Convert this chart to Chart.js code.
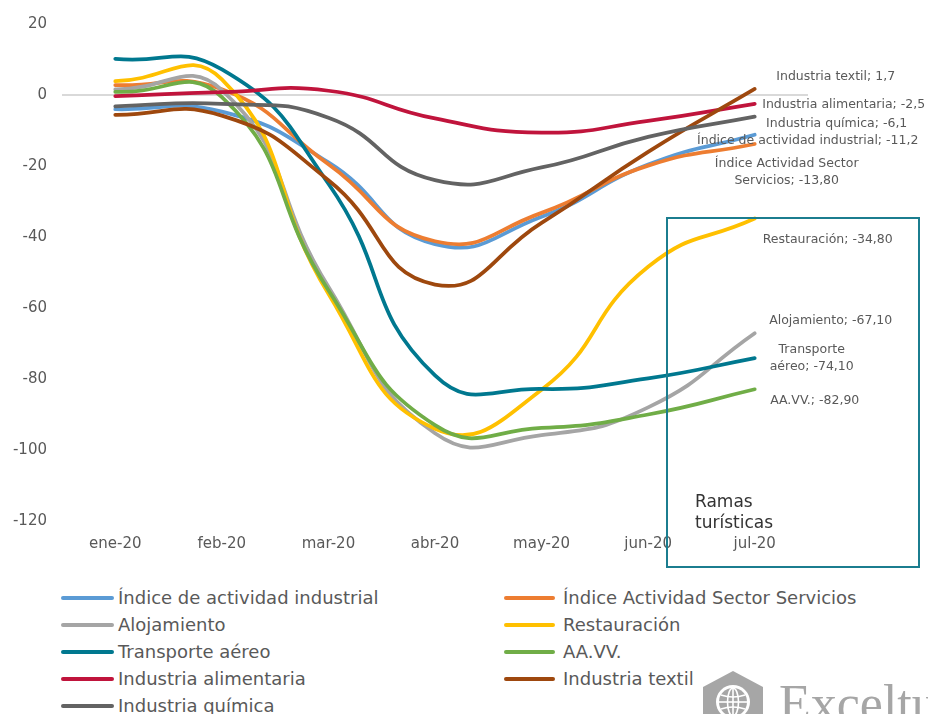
<!DOCTYPE html>
<html>
<head>
<meta charset="utf-8">
<script src="https://cdn.jsdelivr.net/npm/chart.js@4.4.1/dist/chart.umd.min.js"></script>
<style>
  html, body { margin: 0; padding: 0; background: #fff; }
  #wrap { position: relative; width: 928px; height: 714px; overflow: hidden; }
  #chart { position: absolute; left: 0; top: 0; }
  .leg { position: absolute; height: 26px; line-height: 26px; font-family: "DejaVu Sans", sans-serif;
         font-size: 18px; color: #595959; white-space: nowrap; }
  .leg i { position: absolute; top: 11px; height: 4px; border-radius: 2px; }
  #logo { position: absolute; left: 701px; top: 668px; }
  #logoText { position: absolute; left: 779px; top: 678px; font-family: "Liberation Serif", serif;
              font-size: 52px; line-height: 52px; color: #a6a6a6; white-space: nowrap; }
</style>
</head>
<body>
<div id="wrap">
  <canvas id="chart" width="928" height="580"></canvas>
  <div id="legend"></div>
  <svg id="logo" width="70" height="50" viewBox="0 0 70 50">
    <polygon points="32,3 62,19 62,60 2,60 2,19" fill="#a6a6a6"/>
    <circle cx="32" cy="34" r="17" fill="#fff"/>
    <circle cx="32" cy="34" r="14" fill="#a6a6a6"/>
    <g stroke="#fff" stroke-width="1.6" fill="none">
      <ellipse cx="32" cy="34" rx="5.5" ry="14"/>
      <line x1="32" y1="20" x2="32" y2="48"/>
      <line x1="18" y1="34" x2="46" y2="34"/>
      <path d="M20 27 Q32 31 44 27"/>
      <path d="M20 41 Q32 37 44 41"/>
    </g>
  </svg>
  <div id="logoText">Exceltur</div>
</div>
<script>
// Meses y series (variación %)
const months = ['ene-20', 'feb-20', 'mar-20', 'abr-20', 'may-20', 'jun-20', 'jul-20'];

const industrial   = [-4.0, -4.7, -19.0, -42.0, -34.3, -19.6, -11.2];
const servicios    = [2.8, 1.6, -19.5, -41.2, -33.2, -19.9, -13.8];
const alojamiento  = [1.6, 1.4, -54.0, -95.3, -95.8, -88.0, -67.1];
const restauracion = [3.9, 4.4, -56.0, -94.0, -83.0, -48.4, -34.8];
const transporte   = [10.2, 7.2, -25.0, -79.0, -82.8, -79.8, -74.1];
const aavv         = [0.9, -0.6, -55.0, -93.0, -93.8, -90.0, -82.9];
const alimentaria  = [-0.3, 0.8, 1.2, -6.6, -10.6, -7.3, -2.5];
const textil       = [-5.6, -5.8, -24.0, -53.4, -36.0, -16.0, 1.7];
const quimica      = [-3.2, -2.5, -6.4, -24.0, -20.4, -11.8, -6.1];

const seriesNames = ['Índice de actividad industrial', 'Índice Actividad Sector Servicios', 'Alojamiento',
                     'Restauración', 'Transporte aéreo', 'AA.VV.', 'Industria alimentaria',
                     'Industria textil', 'Industria química'];
const seriesData = [industrial, servicios, alojamiento, restauracion, transporte, aavv, alimentaria, textil, quimica];
const seriesColors = ['#5b9bd5', '#ed7d31', '#a5a5a5', '#ffc000', '#00788f', '#70ad47', '#c0143c', '#9e480e', '#636363'];

// Etiquetas del último punto (jul-20)
const endLabelText = [
    ['Índice de actividad industrial; -11,2'],
    ['Índice Actividad Sector', 'Servicios; -13,80'],
    ['Alojamiento; -67,10'],
    ['Restauración; -34,80'],
    ['Transporte', 'aéreo; -74,10'],
    ['AA.VV.; -82,90'],
    ['Industria alimentaria; -2,5'],
    ['Industria textil; 1,7'],
    ['Industria química; -6,1']
];

const yTicks = { min: -120, max: 20, step: 20 };

// desplazamiento de cada etiqueta respecto al último punto
const labelOffsets = [[53, 6], [32, 20], [76, -12], [73, 21], [57, -8], [60, 11], [89, 1], [81, -12], [82, 7]];

const endLabels = {
    id: 'endLabels',
    afterDatasetsDraw(chart) {
        const c = chart.ctx;
        c.save();
        c.font = '12.5px "DejaVu Sans", sans-serif';
        c.fillStyle = '#595959';
        c.textAlign = 'center';
        c.textBaseline = 'middle';
        chart.data.datasets.forEach((ds, i) => {
            const meta = chart.getDatasetMeta(i);
            const pt = meta.data[meta.data.length - 1];
            const lines = endLabelText[i];
            lines.forEach((txt, k) => {
                c.fillText(txt, pt.x + labelOffsets[i][0], pt.y + labelOffsets[i][1] + k * 17);
            });
        });
        // recuadro "Ramas turísticas"
        c.strokeStyle = '#1b7d8f';
        c.lineWidth = 2;
        c.strokeRect(667, 218, 252, 349);
        c.font = '17px "DejaVu Sans", sans-serif';
        c.fillStyle = '#333333';
        c.textAlign = 'left';
        c.fillText('Ramas', 695, 503);
        c.fillText('turísticas', 695, 524);
        c.restore();
    }
};

const ctx = document.getElementById('chart');

new Chart(ctx, {
    type: 'line',
    data: {
        labels: months,
        datasets: seriesData.map((d, i) => ({
            label: seriesNames[i],
            data: d,
            borderColor: seriesColors[i],
            backgroundColor: seriesColors[i],
            borderWidth: 3.75,
            borderCapStyle: 'round',
            pointRadius: 0,
            tension: 0.5,
            fill: false,
            order: -i
        }))
    },
    options: {
        responsive: false,
        animation: false,
        devicePixelRatio: 1,
        layout: { padding: { top: 20, right: 120, bottom: 19, left: 0 } },
        plugins: { legend: { display: false }, tooltip: { enabled: false } },
        scales: {
            x: {
                offset: true,
                grid: { display: false, drawTicks: false },
                border: { display: false },
                ticks: { padding: 14, color: '#595959', font: { family: 'DejaVu Sans', size: 15 } },
                afterFit(scale) { scale.height = 40; }
            },
            y: {
                min: yTicks.min,
                max: yTicks.max,
                border: { display: false },
                grid: {
                    drawTicks: false,
                    lineWidth: 2,
                    color: (c) => (c.tick && c.tick.value === 0 ? '#d9d9d9' : 'rgba(0,0,0,0)')
                },
                ticks: { stepSize: yTicks.step, padding: 15, color: '#595959', font: { family: 'DejaVu Sans', size: 15 } },
                afterFit(scale) { scale.width = 62; }
            }
        }
    },
    plugins: [endLabels]
});

// Leyenda en dos columnas
const legend = document.getElementById('legend');
seriesNames.forEach((name, i) => {
    const col = i % 2;
    const row = Math.floor(i / 2);
    const div = document.createElement('div');
    div.className = 'leg';
    div.style.top = (585 + row * 27) + 'px';
    div.style.left = (col === 0 ? 61 : 504) + 'px';
    div.style.paddingLeft = (col === 0 ? 57 : 59) + 'px';
    const line = document.createElement('i');
    line.style.left = '0px';
    line.style.width = (col === 0 ? 53 : 51) + 'px';
    line.style.background = seriesColors[i];
    div.appendChild(line);
    div.appendChild(document.createTextNode(name));
    legend.appendChild(div);
});
</script>
</body>
</html>
